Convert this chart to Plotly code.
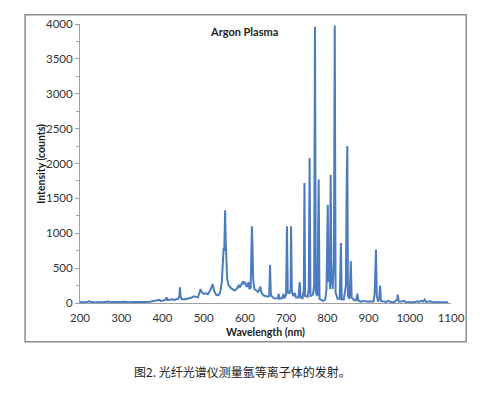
import plotly.graph_objects as go

wavelength = [200, 205, 215, 222, 228, 240, 255, 268, 275, 285, 295, 300, 310, 318, 330, 340, 350, 360, 370, 380,
              388, 392, 396, 402, 407, 410, 413, 418, 423, 427, 432, 438, 441, 442.5, 444, 447, 455, 462, 470, 476,
              480, 486, 490, 492.5, 495, 500, 505, 510, 515, 520, 522, 525, 530, 535, 540, 544, 547, 548.5, 550, 552,
              553.5, 555, 557, 560, 565, 570, 575, 580, 585, 588, 592, 596, 598, 601, 604, 607, 609, 611, 614, 616,
              617, 618.5, 620, 623, 627, 632, 636, 637.5, 640, 645, 650, 655, 659, 661, 663, 670, 676, 680, 682, 684,
              690, 694, 696, 700, 702, 704, 708, 711, 712, 714, 718, 721, 724, 730, 733, 735, 740, 743, 744.5, 746,
              752, 755, 757, 759, 765, 768, 770, 772, 776, 779, 781, 786, 790, 795, 798, 801, 803, 805, 806.5, 808,
              810, 813, 816, 818, 820, 825, 830, 833, 835, 840, 845, 847, 848.5, 850, 854, 857, 859, 865, 870, 873,
              875, 880, 890, 895, 905, 912, 915, 918, 920, 923, 926, 928, 930, 935, 942, 948, 955, 963, 970, 971,
              973, 980, 985, 990, 1000, 1010, 1018, 1022, 1028, 1032, 1036, 1039, 1045, 1050, 1055, 1065, 1075, 1085, 1093]
intensity = [15, 10, 12, 25, 12, 8, 10, 20, 12, 14, 10, 15, 18, 12, 15, 12, 18, 15, 18, 25,
             40, 45, 30, 35, 45, 80, 40, 45, 55, 45, 55, 60, 100, 225, 90, 55, 55, 60, 75, 95,
             85, 80, 150, 200, 160, 130, 140, 125, 170, 240, 270, 180, 120, 110, 150, 300, 700, 790, 750, 1330,
             900, 600, 350, 260, 220, 200, 180, 200, 250, 230, 280, 310, 280, 300, 230, 250, 300, 200, 220, 600,
             1100, 800, 350, 200, 180, 160, 200, 235, 150, 110, 100, 90, 100, 545, 110, 70, 65, 70, 130, 60,
             70, 130, 65, 120, 1100, 150, 140, 200, 1100, 150, 100, 145, 80, 80, 300, 80, 70, 200, 1720, 100,
             90, 200, 2080, 100, 120, 250, 3960, 150, 100, 1770, 60, 40, 30, 50, 200, 1410, 300, 700, 200, 1840,
             400, 200, 600, 3980, 150, 60, 60, 860, 50, 50, 250, 1750, 2250, 100, 60, 600, 80, 40, 40, 135,
             40, 20, 30, 20, 15, 20, 150, 765, 100, 20, 80, 250, 30, 20, 15, 30, 12, 15, 60, 120,
             20, 20, 30, 15, 10, 12, 25, 15, 30, 20, 50, 15, 20, 25, 12, 15, 12, 10, 12]

x_ticks = [200, 300, 400, 500, 600, 700, 800, 900, 1000, 1100]
y_ticks = [0, 500, 1000, 1500, 2000, 2500, 3000, 3500, 4000]

chart_title = "Argon Plasma"
x_title = "Wavelength (nm)"
y_title = "Intensity (counts)"
caption = "图2. 光纤光谱仪测量氩等离子体的发射。"

font = "Lato, Open Sans, sans-serif"

fig = go.Figure()
fig.add_trace(go.Scatter(x=wavelength, y=intensity, mode="lines",
                         line=dict(color="#4a7cbf", width=2), showlegend=False))

fig.update_layout(
    width=487, height=394,
    margin=dict(l=80, r=36.3, t=24.3, b=90.7, autoexpand=False),
    paper_bgcolor="white", plot_bgcolor="white",
    font=dict(family=font, size=11, color="#333333"),
    xaxis=dict(range=[200, 1100], tickvals=x_ticks, showgrid=False, zeroline=False, automargin=False,
               showline=True, linecolor="#a0a0a0", linewidth=1, ticks="outside", ticklen=4,
               tickcolor="rgba(0,0,0,0)",
               tickfont=dict(size=11.5, color="#333333")),
    yaxis=dict(range=[0, 4000], tickvals=y_ticks, showgrid=False, zeroline=False, automargin=False,
               showline=True, linecolor="#a0a0a0", linewidth=1, ticks="outside", ticklen=4,
               tickcolor="#a0a0a0",
               minor=dict(dtick=250, ticks="outside", ticklen=3, tickcolor="#a0a0a0"),
               tickfont=dict(size=11.5, color="#333333")),
)

fig.add_annotation(x=0.499, y=-0.103, xref="paper", yref="paper", xanchor="center", yanchor="middle",
                   text="<b>" + x_title + "</b>", showarrow=False,
                   font=dict(size=10.5, color="#222222"))
fig.add_annotation(x=-0.105, y=0.499, xref="paper", yref="paper", xanchor="center", yanchor="middle",
                   text="<b>" + y_title + "</b>", showarrow=False, textangle=-90,
                   font=dict(size=10.5, color="#222222"))

fig.add_annotation(x=598, y=3890, xref="x", yref="y", text="<b>" + chart_title + "</b>",
                   showarrow=False, font=dict(size=11, color="#222222"))

fig.add_shape(type="rect", xref="paper", yref="paper",
              x0=-0.148, x1=1.041, y0=-0.139, y1=1.033,
              line=dict(color="#8c8c8c", width=1.5), fillcolor="rgba(0,0,0,0)")

fig.add_annotation(x=0.438, y=-0.245, xref="paper", yref="paper", xanchor="center", yanchor="middle",
                   text=caption, showarrow=False,
                   font=dict(family="Noto Sans CJK SC", size=12, color="#222222"))

fig.write_html("out.html", config={"displayModeBar": False},
               post_script="document.body.style.margin='0';document.body.style.padding='0';")
